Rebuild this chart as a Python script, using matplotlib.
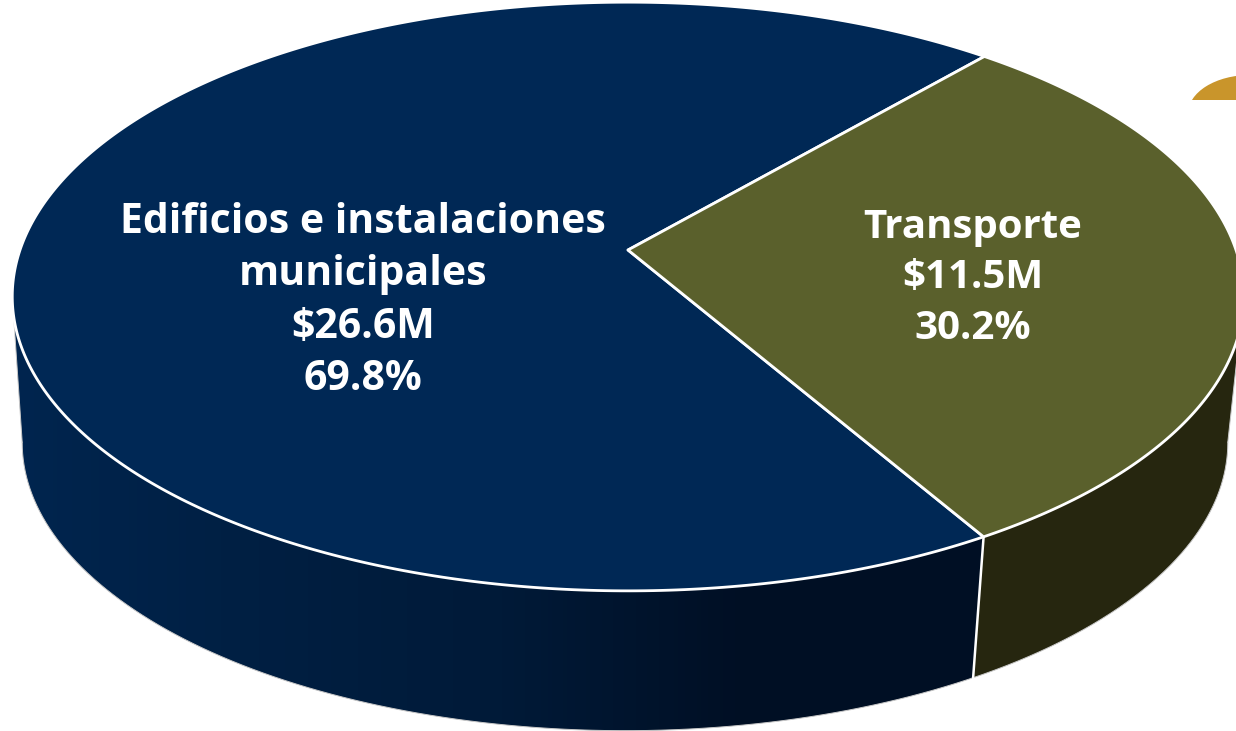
import numpy as np
import matplotlib
matplotlib.use('Agg')
import matplotlib.pyplot as plt
from matplotlib.patches import Polygon, Ellipse, Rectangle
from matplotlib.colors import LinearSegmentedColormap

# datos
categorias = ['Edificios e instalaciones\nmunicipales', 'Transporte']
montos = [26.6, 11.5]
etiquetas_monto = ['$26.6M', '$11.5M']
etiquetas_pct = ['69.8%', '30.2%']

plt.rcParams['font.family'] = ['Open Sans', 'DejaVu Sans']

W, H = 1236, 731
APEX = (628, 250)
K = -0.158     # perspectiva
A, B = 608, 287
START = 49.0   # angulo donde empieza el navy (grados)

NAVY = '#002855'
OLIVA = '#5a602c'
OLIVA_LADO = '#26260f'
ORO = '#c9952b'


def borde(t):
    # circulo -> pantalla con perspectiva
    t = np.radians(t)
    u, v = np.cos(t), -np.sin(t)
    d = 1 + K * v
    return APEX[0] + A * u / d, APEX[1] + B * v / d


def borde_bajo(x, y):
    # borde inferior: misma elipse, un poco menor y desplazada
    return 625 + (x - 628) * 0.979, 442 + (y - 296) * 0.979


fig = plt.figure(figsize=(W / 100, H / 100), dpi=100)
ax = fig.add_axes([0, 0, 1, 1])
ax.set_xlim(0, W)
ax.set_ylim(H, 0)
ax.axis('off')

# angulos a partir de los montos
total = sum(montos)
ang_navy = montos[0] / total * 360
ang_oliva = montos[1] / total * 360
corte_arriba = START
corte_abajo = START - ang_oliva

# costado: silueta frontal
t_frente = np.linspace(180, 360, 300)
xt, yt = borde(t_frente)
i_izq, i_der = np.argmin(xt), np.argmax(xt)
t_izq, t_der = t_frente[i_izq], t_frente[i_der]

t_a = np.linspace(t_izq, 360 + corte_abajo, 200)
xa, ya = borde(t_a)
xb, yb = borde_bajo(xa, ya)
lado_navy = Polygon(np.r_[np.c_[xa, ya], np.c_[xb, yb][::-1]], closed=True,
                    fc='none', ec='none')
ax.add_patch(lado_navy)
cmap = LinearSegmentedColormap.from_list('lado', ['#00254f', '#001f42', '#001a38', '#000f24', '#000f24'])
img = ax.imshow(np.linspace(0, 1, 256)[None, :], cmap=cmap, extent=[15, 990, H, 0],
                aspect='auto', zorder=1)
img.set_clip_path(lado_navy)
ax.set_xlim(0, W)
ax.set_ylim(H, 0)

t_b = np.linspace(360 + corte_abajo, t_der, 200)
xa2, ya2 = borde(t_b)
xb2, yb2 = borde_bajo(xa2, ya2)
ax.add_patch(Polygon(np.r_[np.c_[xa2, ya2], np.c_[xb2, yb2][::-1]], closed=True,
                     fc=OLIVA_LADO, ec='none', zorder=1))

# contorno gris fino del costado
ax.plot(np.r_[xb, xb2], np.r_[yb, yb2], color='#c8c8c8', lw=0.7, zorder=1.5)
ax.plot([xa[0], xb[0]], [ya[0], yb[0]], color='#c8c8c8', lw=0.7, zorder=1.5)
ax.plot([xa2[-1], xb2[-1]], [ya2[-1], yb2[-1]], color='#c8c8c8', lw=0.7, zorder=1.5)

# costura entre los dos costados
xs, ys = borde(corte_abajo)
xs2, ys2 = borde_bajo(xs, ys)
ax.plot([xs, xs2], [ys, ys2], color='white', lw=1.8, zorder=2)

# cara superior
t1 = np.linspace(corte_arriba, corte_arriba + ang_navy, 400)
x1, y1 = borde(t1)
ax.add_patch(Polygon(np.r_[[APEX], np.c_[x1, y1]], closed=True, fc=NAVY, ec='white',
                     lw=2.0, joinstyle='round', zorder=3))
t2 = np.linspace(corte_abajo, corte_arriba, 200)
x2, y2 = borde(t2)
ax.add_patch(Polygon(np.r_[[APEX], np.c_[x2, y2]], closed=True, fc=OLIVA, ec='white',
                     lw=2.0, joinstyle='round', zorder=3))

# pedacito dorado arriba a la derecha, cortado por abajo
oro = Ellipse((1250, 113.6), 124, 77.2, fc=ORO, ec='none', zorder=1)
ax.add_patch(oro)
recorte = Rectangle((1180, 60), 60, 39.5, transform=ax.transData)
oro.set_clip_path(recorte)

# etiquetas
ax.text(363, 301, categorias[0] + '\n' + etiquetas_monto[0] + '\n' + etiquetas_pct[0],
        color='white', fontsize=29.5, fontweight='bold', ha='center', va='center',
        linespacing=1.36, zorder=5)
ax.text(973, 278, categorias[1] + '\n' + etiquetas_monto[1] + '\n' + etiquetas_pct[1],
        color='white', fontsize=29, fontweight='bold', ha='center', va='center',
        linespacing=1.38, zorder=5)

fig.savefig('out.png', dpi=100, facecolor='white')
